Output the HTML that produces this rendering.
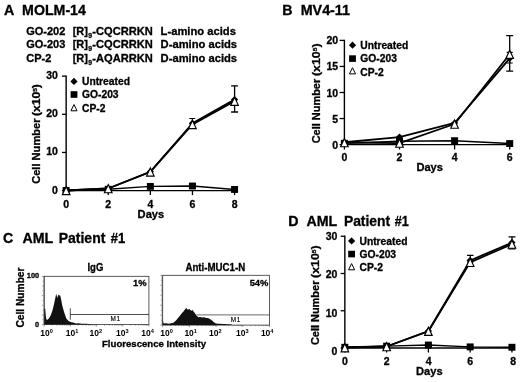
<!DOCTYPE html>
<html><head><meta charset="utf-8"><title>Figure</title>
<style>html,body{margin:0;padding:0;background:#fff}svg{display:block}text{font-family:"Liberation Sans", Arial, Helvetica, sans-serif;fill:#000}</style>
</head><body>
<svg width="520" height="382" viewBox="0 0 520 382">
<rect width="520" height="382" fill="#fff"/>
<text x="4.0" y="15.0" font-size="14.2" font-weight="bold" text-anchor="start" stroke="#000" stroke-width="0.3" >A</text>
<text x="22.1" y="15.0" font-size="14.2" font-weight="bold" text-anchor="start" textLength="63.8" lengthAdjust="spacingAndGlyphs" stroke="#000" stroke-width="0.3" >MOLM-14</text>
<text x="26.2" y="34.5" font-size="11" font-weight="bold" text-anchor="start" stroke="#000" stroke-width="0.3" >GO-202</text>
<text x="72.7" y="34.5" font-size="11" font-weight="bold" text-anchor="start" stroke="#000" stroke-width="0.3" >[R]</text>
<text x="88.3" y="37.9" font-size="6.8" font-weight="bold" text-anchor="start" stroke="#000" stroke-width="0.3" >9</text>
<text x="92.3" y="34.5" font-size="11" font-weight="bold" text-anchor="start" textLength="60.5" lengthAdjust="spacingAndGlyphs" stroke="#000" stroke-width="0.3" >-CQCRRKN</text>
<text x="160.6" y="34.5" font-size="11" font-weight="bold" text-anchor="start" textLength="75.3" lengthAdjust="spacingAndGlyphs" stroke="#000" stroke-width="0.3" >L-amino acids</text>
<text x="26.2" y="47.9" font-size="11" font-weight="bold" text-anchor="start" stroke="#000" stroke-width="0.3" >GO-203</text>
<text x="72.7" y="47.9" font-size="11" font-weight="bold" text-anchor="start" stroke="#000" stroke-width="0.3" >[R]</text>
<text x="88.3" y="51.3" font-size="6.8" font-weight="bold" text-anchor="start" stroke="#000" stroke-width="0.3" >9</text>
<text x="92.3" y="47.9" font-size="11" font-weight="bold" text-anchor="start" textLength="60.5" lengthAdjust="spacingAndGlyphs" stroke="#000" stroke-width="0.3" >-CQCRRKN</text>
<text x="160.6" y="47.9" font-size="11" font-weight="bold" text-anchor="start" textLength="76.5" lengthAdjust="spacingAndGlyphs" stroke="#000" stroke-width="0.3" >D-amino acids</text>
<text x="26.2" y="61.6" font-size="11" font-weight="bold" text-anchor="start" stroke="#000" stroke-width="0.3" >CP-2</text>
<text x="72.7" y="61.6" font-size="11" font-weight="bold" text-anchor="start" stroke="#000" stroke-width="0.3" >[R]</text>
<text x="88.3" y="65.0" font-size="6.8" font-weight="bold" text-anchor="start" stroke="#000" stroke-width="0.3" >9</text>
<text x="92.3" y="61.6" font-size="11" font-weight="bold" text-anchor="start" textLength="60.5" lengthAdjust="spacingAndGlyphs" stroke="#000" stroke-width="0.3" >-AQARRKN</text>
<text x="160.6" y="61.6" font-size="11" font-weight="bold" text-anchor="start" textLength="76.5" lengthAdjust="spacingAndGlyphs" stroke="#000" stroke-width="0.3" >D-amino acids</text>
<path d="M66.15 75.45V190.6H235.15" stroke="#000" stroke-width="1.4" fill="none"/>
<path d="M61.95 190.60H66.15" stroke="#000" stroke-width="1.3"/>
<text x="57.95" y="193.5" font-size="10.5" font-weight="bold" text-anchor="end" stroke="#000" stroke-width="0.3" >0</text>
<path d="M61.95 152.45H66.15" stroke="#000" stroke-width="1.3"/>
<text x="57.95" y="155.35" font-size="10.5" font-weight="bold" text-anchor="end" stroke="#000" stroke-width="0.3" >10</text>
<path d="M61.95 114.30H66.15" stroke="#000" stroke-width="1.3"/>
<text x="57.95" y="117.2" font-size="10.5" font-weight="bold" text-anchor="end" stroke="#000" stroke-width="0.3" >20</text>
<path d="M61.95 76.15H66.15" stroke="#000" stroke-width="1.3"/>
<text x="57.95" y="79.05" font-size="10.5" font-weight="bold" text-anchor="end" stroke="#000" stroke-width="0.3" >30</text>
<path d="M66.15 190.6V195.1" stroke="#000" stroke-width="1.3"/>
<text x="66.15" y="208.3" font-size="10.5" font-weight="bold" text-anchor="middle" stroke="#000" stroke-width="0.3" >0</text>
<path d="M108.25 190.6V195.1" stroke="#000" stroke-width="1.3"/>
<text x="108.25" y="208.3" font-size="10.5" font-weight="bold" text-anchor="middle" stroke="#000" stroke-width="0.3" >2</text>
<path d="M150.35 190.6V195.1" stroke="#000" stroke-width="1.3"/>
<text x="150.35" y="208.3" font-size="10.5" font-weight="bold" text-anchor="middle" stroke="#000" stroke-width="0.3" >4</text>
<path d="M192.45 190.6V195.1" stroke="#000" stroke-width="1.3"/>
<text x="192.45" y="208.3" font-size="10.5" font-weight="bold" text-anchor="middle" stroke="#000" stroke-width="0.3" >6</text>
<path d="M234.55 190.6V195.1" stroke="#000" stroke-width="1.3"/>
<text x="234.55" y="208.3" font-size="10.5" font-weight="bold" text-anchor="middle" stroke="#000" stroke-width="0.3" >8</text>
<text x="150.9" y="218.3" font-size="11" font-weight="bold" text-anchor="middle" textLength="26.6" lengthAdjust="spacingAndGlyphs" stroke="#000" stroke-width="0.3" >Days</text>
<text transform="translate(40.2 84.1) rotate(-90)" font-size="11" font-weight="bold" text-anchor="end" stroke="#000" stroke-width="0.3" textLength="32.0" lengthAdjust="spacingAndGlyphs">(x10<tspan font-size="6" dy="-3.6">5</tspan><tspan dy="3.6">)</tspan></text>
<text transform="translate(40.2 118.5) rotate(-90)" font-size="11" font-weight="bold" text-anchor="end" stroke="#000" stroke-width="0.3" textLength="65.3" lengthAdjust="spacingAndGlyphs">Cell Number</text>
<polyline points="66.15,190.49 108.25,189.26 150.35,186.40 192.45,186.02 234.55,189.46" fill="none" stroke="#000" stroke-width="1.4" stroke-linejoin="round"/>
<polyline points="66.15,190.49 108.25,188.50 150.35,171.72 192.45,123.27 234.55,99.61" fill="none" stroke="#000" stroke-width="1.8" stroke-linejoin="round"/>
<polyline points="66.15,190.49 108.25,188.50 150.35,171.91 192.45,124.41 234.55,101.14" fill="none" stroke="#000" stroke-width="1.8" stroke-linejoin="round"/>
<path d="M234.6 85.9V112M231.1 85.9H238.1M231.1 112H238.1" stroke="#000" stroke-width="1.3" fill="none"/>
<path d="M192.3 118.5V124M189.3 118.5H195.3M189.3 124H195.3" stroke="#000" stroke-width="1.2" fill="none"/>
<rect x="62.65" y="187.04" width="7.0" height="6.9" fill="#000"/>
<rect x="104.75" y="185.81" width="7.0" height="6.9" fill="#000"/>
<rect x="146.85" y="182.95" width="7.0" height="6.9" fill="#000"/>
<rect x="188.95" y="182.57" width="7.0" height="6.9" fill="#000"/>
<rect x="231.05" y="186.01" width="7.0" height="6.9" fill="#000"/>
<path d="M66.15 186.88555L69.75 190.48555L66.15 194.08554999999998L62.550000000000004 190.48555Z" fill="#000"/>
<path d="M108.25 184.90175L111.85 188.50175L108.25 192.10174999999998L104.65 188.50175Z" fill="#000"/>
<path d="M150.35000000000002 168.11575L153.95000000000002 171.71574999999999L150.35000000000002 175.31574999999998L146.75000000000003 171.71574999999999Z" fill="#000"/>
<path d="M192.45000000000002 119.66525L196.05 123.26525L192.45000000000002 126.86524999999999L188.85000000000002 123.26525Z" fill="#000"/>
<path d="M234.55 96.01225L238.15 99.61224999999999L234.55 103.21224999999998L230.95000000000002 99.61224999999999Z" fill="#000"/>
<path d="M66.15 186.49L69.95 194.69L62.35 194.69Z" fill="#fff" stroke="#000" stroke-width="1.15" stroke-linejoin="miter"/>
<path d="M108.25 184.50L112.05 192.70L104.45 192.70Z" fill="#fff" stroke="#000" stroke-width="1.15" stroke-linejoin="miter"/>
<path d="M150.35000000000002 167.91L154.15 176.11L146.55 176.11Z" fill="#fff" stroke="#000" stroke-width="1.15" stroke-linejoin="miter"/>
<path d="M192.45000000000002 120.41L196.25 128.61L188.65 128.61Z" fill="#fff" stroke="#000" stroke-width="1.15" stroke-linejoin="miter"/>
<path d="M234.55 97.14L238.35 105.34L230.75 105.34Z" fill="#fff" stroke="#000" stroke-width="1.15" stroke-linejoin="miter"/>
<path d="M74.0 77.80000000000001L77.6 81.4L74.0 85.0L70.4 81.4Z" fill="#000"/>
<text x="82.0" y="85.3" font-size="10.3" font-weight="bold" text-anchor="start" textLength="47.9" lengthAdjust="spacingAndGlyphs" stroke="#000" stroke-width="0.3" >Untreated</text>
<rect x="70.60" y="91.20" width="6.8" height="6.6" fill="#000"/>
<text x="82.0" y="98.39999999999999" font-size="10.3" font-weight="bold" text-anchor="start" textLength="36.6" lengthAdjust="spacingAndGlyphs" stroke="#000" stroke-width="0.3" >GO-203</text>
<path d="M74.0 104.60L77.05 110.80L70.95 110.80Z" fill="#fff" stroke="#000" stroke-width="1.0" stroke-linejoin="miter"/>
<text x="82.0" y="112.1" font-size="10.3" font-weight="bold" text-anchor="start" stroke="#000" stroke-width="0.3" >CP-2</text>
<text x="282.2" y="15.0" font-size="14.2" font-weight="bold" text-anchor="start" stroke="#000" stroke-width="0.3" >B</text>
<text x="300.7" y="15.0" font-size="14.2" font-weight="bold" text-anchor="start" textLength="49.3" lengthAdjust="spacingAndGlyphs" stroke="#000" stroke-width="0.3" >MV4-11</text>
<path d="M344.4 39.70V144.6H510.30" stroke="#000" stroke-width="1.4" fill="none"/>
<path d="M339.60 144.60H344.4" stroke="#000" stroke-width="1.3"/>
<text x="338.1" y="148.6" font-size="10.5" font-weight="bold" text-anchor="end" stroke="#000" stroke-width="0.3" >0</text>
<path d="M339.60 118.55H344.4" stroke="#000" stroke-width="1.3"/>
<text x="338.1" y="122.55" font-size="10.5" font-weight="bold" text-anchor="end" stroke="#000" stroke-width="0.3" >5</text>
<path d="M339.60 92.50H344.4" stroke="#000" stroke-width="1.3"/>
<text x="338.1" y="96.5" font-size="10.5" font-weight="bold" text-anchor="end" stroke="#000" stroke-width="0.3" >10</text>
<path d="M339.60 66.45H344.4" stroke="#000" stroke-width="1.3"/>
<text x="338.1" y="70.45" font-size="10.5" font-weight="bold" text-anchor="end" stroke="#000" stroke-width="0.3" >15</text>
<path d="M339.60 40.40H344.4" stroke="#000" stroke-width="1.3"/>
<text x="338.1" y="44.4" font-size="10.5" font-weight="bold" text-anchor="end" stroke="#000" stroke-width="0.3" >20</text>
<path d="M344.40 144.6V149.5" stroke="#000" stroke-width="1.3"/>
<text x="344.4" y="161.2" font-size="10.5" font-weight="bold" text-anchor="middle" stroke="#000" stroke-width="0.3" >0</text>
<path d="M399.50 144.6V149.5" stroke="#000" stroke-width="1.3"/>
<text x="399.5" y="161.2" font-size="10.5" font-weight="bold" text-anchor="middle" stroke="#000" stroke-width="0.3" >2</text>
<path d="M454.60 144.6V149.5" stroke="#000" stroke-width="1.3"/>
<text x="454.6" y="161.2" font-size="10.5" font-weight="bold" text-anchor="middle" stroke="#000" stroke-width="0.3" >4</text>
<path d="M509.70 144.6V149.5" stroke="#000" stroke-width="1.3"/>
<text x="509.7" y="161.2" font-size="10.5" font-weight="bold" text-anchor="middle" stroke="#000" stroke-width="0.3" >6</text>
<text x="429.7" y="171.3" font-size="11" font-weight="bold" text-anchor="middle" textLength="26.6" lengthAdjust="spacingAndGlyphs" stroke="#000" stroke-width="0.3" >Days</text>
<text transform="translate(320.1 43.5) rotate(-90)" font-size="11" font-weight="bold" text-anchor="end" stroke="#000" stroke-width="0.3" textLength="32.6" lengthAdjust="spacingAndGlyphs">(x10<tspan font-size="6" dy="-3.6">5</tspan><tspan dy="3.6">)</tspan></text>
<text transform="translate(320.1 78.8) rotate(-90)" font-size="11" font-weight="bold" text-anchor="end" stroke="#000" stroke-width="0.3" textLength="64.5" lengthAdjust="spacingAndGlyphs">Cell Number</text>
<polyline points="344.40,143.30 399.50,141.21 454.60,140.69 509.70,143.56" fill="none" stroke="#000" stroke-width="1.4" stroke-linejoin="round"/>
<polyline points="344.40,142.26 399.50,137.05 454.60,122.98 509.70,58.37" fill="none" stroke="#000" stroke-width="1.8" stroke-linejoin="round"/>
<polyline points="344.40,142.52 399.50,143.04 454.60,124.02 509.70,54.21" fill="none" stroke="#000" stroke-width="1.8" stroke-linejoin="round"/>
<path d="M509.7 35.7V71.2M506.2 35.7H513.2M506.2 71.2H513.2" stroke="#000" stroke-width="1.3" fill="none"/>
<path d="M509.7 52.4V63.0M506.7 52.4H512.7M506.7 63.0H512.7" stroke="#000" stroke-width="1.2" fill="none"/>
<rect x="340.90" y="139.85" width="7.0" height="6.9" fill="#000"/>
<rect x="396.00" y="137.76" width="7.0" height="6.9" fill="#000"/>
<rect x="451.10" y="137.24" width="7.0" height="6.9" fill="#000"/>
<rect x="506.20" y="140.11" width="7.0" height="6.9" fill="#000"/>
<path d="M344.4 138.6555L348.0 142.25549999999998L344.4 145.85549999999998L340.79999999999995 142.25549999999998Z" fill="#000"/>
<path d="M399.5 133.4455L403.1 137.0455L399.5 140.6455L395.9 137.0455Z" fill="#000"/>
<path d="M454.59999999999997 119.3785L458.2 122.9785L454.59999999999997 126.57849999999999L450.99999999999994 122.9785Z" fill="#000"/>
<path d="M509.7 54.774499999999996L513.3 58.3745L509.7 61.9745L506.09999999999997 58.3745Z" fill="#000"/>
<path d="M344.4 138.52L348.20 146.72L340.60 146.72Z" fill="#fff" stroke="#000" stroke-width="1.15" stroke-linejoin="miter"/>
<path d="M399.5 139.04L403.30 147.24L395.70 147.24Z" fill="#fff" stroke="#000" stroke-width="1.15" stroke-linejoin="miter"/>
<path d="M454.59999999999997 120.02L458.40 128.22L450.80 128.22Z" fill="#fff" stroke="#000" stroke-width="1.15" stroke-linejoin="miter"/>
<path d="M509.7 50.21L513.50 58.41L505.90 58.41Z" fill="#fff" stroke="#000" stroke-width="1.15" stroke-linejoin="miter"/>
<path d="M352.5 41.6L356.1 45.2L352.5 48.800000000000004L348.9 45.2Z" fill="#000"/>
<text x="360.3" y="48.8" font-size="10.3" font-weight="bold" text-anchor="start" textLength="47.9" lengthAdjust="spacingAndGlyphs" stroke="#000" stroke-width="0.3" >Untreated</text>
<rect x="349.10" y="55.30" width="6.8" height="6.6" fill="#000"/>
<text x="360.3" y="62.199999999999996" font-size="10.3" font-weight="bold" text-anchor="start" textLength="36.6" lengthAdjust="spacingAndGlyphs" stroke="#000" stroke-width="0.3" >GO-203</text>
<path d="M352.5 67.70L355.55 73.90L349.45 73.90Z" fill="#fff" stroke="#000" stroke-width="1.0" stroke-linejoin="miter"/>
<text x="360.3" y="75.6" font-size="10.3" font-weight="bold" text-anchor="start" stroke="#000" stroke-width="0.3" >CP-2</text>
<text x="288.2" y="225.6" font-size="14.2" font-weight="bold" text-anchor="start" stroke="#000" stroke-width="0.3" >D</text>
<text x="306.4" y="225.6" font-size="14.2" font-weight="bold" text-anchor="start" stroke="#000" stroke-width="0.3" >AML</text>
<text x="343.9" y="225.6" font-size="14.2" font-weight="bold" text-anchor="start" textLength="46.3" lengthAdjust="spacingAndGlyphs" stroke="#000" stroke-width="0.3" >Patient</text>
<text x="394.7" y="225.6" font-size="14.2" font-weight="bold" text-anchor="start" textLength="14.0" lengthAdjust="spacingAndGlyphs" stroke="#000" stroke-width="0.3" >#1</text>
<path d="M344.85 235.55V348.0H512.53" stroke="#000" stroke-width="1.4" fill="none"/>
<path d="M340.65 348.00H344.85" stroke="#000" stroke-width="1.3"/>
<text x="337.35" y="354.6" font-size="10.5" font-weight="bold" text-anchor="end" stroke="#000" stroke-width="0.3" >0</text>
<path d="M340.65 310.75H344.85" stroke="#000" stroke-width="1.3"/>
<text x="337.35" y="317.0" font-size="10.5" font-weight="bold" text-anchor="end" stroke="#000" stroke-width="0.3" >10</text>
<path d="M340.65 273.50H344.85" stroke="#000" stroke-width="1.3"/>
<text x="337.35" y="278.4" font-size="10.5" font-weight="bold" text-anchor="end" stroke="#000" stroke-width="0.3" >20</text>
<path d="M340.65 236.25H344.85" stroke="#000" stroke-width="1.3"/>
<text x="337.35" y="240.3" font-size="10.5" font-weight="bold" text-anchor="end" stroke="#000" stroke-width="0.3" >30</text>
<path d="M344.85 348.0V352.5" stroke="#000" stroke-width="1.3"/>
<text x="344.85" y="364.8" font-size="10.5" font-weight="bold" text-anchor="middle" stroke="#000" stroke-width="0.3" >0</text>
<path d="M386.62 348.0V352.5" stroke="#000" stroke-width="1.3"/>
<text x="386.62" y="364.8" font-size="10.5" font-weight="bold" text-anchor="middle" stroke="#000" stroke-width="0.3" >2</text>
<path d="M428.39 348.0V352.5" stroke="#000" stroke-width="1.3"/>
<text x="428.79" y="364.8" font-size="10.5" font-weight="bold" text-anchor="middle" stroke="#000" stroke-width="0.3" >4</text>
<path d="M470.16 348.0V352.5" stroke="#000" stroke-width="1.3"/>
<text x="470.16" y="364.8" font-size="10.5" font-weight="bold" text-anchor="middle" stroke="#000" stroke-width="0.3" >6</text>
<path d="M511.93 348.0V352.5" stroke="#000" stroke-width="1.3"/>
<text x="513.23" y="364.8" font-size="10.5" font-weight="bold" text-anchor="middle" stroke="#000" stroke-width="0.3" >8</text>
<text x="429.3" y="374.5" font-size="11" font-weight="bold" text-anchor="middle" textLength="26.6" lengthAdjust="spacingAndGlyphs" stroke="#000" stroke-width="0.3" >Days</text>
<text transform="translate(319.3 245.3) rotate(-90)" font-size="11" font-weight="bold" text-anchor="end" stroke="#000" stroke-width="0.3" textLength="32.6" lengthAdjust="spacingAndGlyphs">(x10<tspan font-size="6" dy="-3.6">5</tspan><tspan dy="3.6">)</tspan></text>
<text transform="translate(319.3 280.6) rotate(-90)" font-size="11" font-weight="bold" text-anchor="end" stroke="#000" stroke-width="0.3" textLength="64.5" lengthAdjust="spacingAndGlyphs">Cell Number</text>
<polyline points="344.85,347.25 386.62,346.14 428.39,345.02 470.16,346.88 511.93,347.25" fill="none" stroke="#000" stroke-width="1.4" stroke-linejoin="round"/>
<polyline points="344.85,347.25 386.62,346.51 428.39,331.05 470.16,260.46 511.93,242.58" fill="none" stroke="#000" stroke-width="1.8" stroke-linejoin="round"/>
<polyline points="344.85,347.63 386.62,346.51 428.39,331.24 470.16,262.32 511.93,244.07" fill="none" stroke="#000" stroke-width="1.8" stroke-linejoin="round"/>
<path d="M512.0 236.8V248.9M508.5 236.8H515.5M508.5 248.9H515.5" stroke="#000" stroke-width="1.3" fill="none"/>
<path d="M470.3 255.4V262M467.05 255.4H473.55M467.05 262H473.55" stroke="#000" stroke-width="1.2" fill="none"/>
<rect x="341.35" y="343.81" width="7.0" height="6.9" fill="#000"/>
<rect x="383.12" y="342.69" width="7.0" height="6.9" fill="#000"/>
<rect x="424.89" y="341.57" width="7.0" height="6.9" fill="#000"/>
<rect x="466.66" y="343.43" width="7.0" height="6.9" fill="#000"/>
<rect x="508.43" y="343.81" width="7.0" height="6.9" fill="#000"/>
<path d="M344.85 343.655L348.45000000000005 347.255L344.85 350.855L341.25 347.255Z" fill="#000"/>
<path d="M386.62 342.90999999999997L390.22 346.51L386.62 350.11L383.02 346.51Z" fill="#000"/>
<path d="M428.39000000000004 327.45124999999996L431.99000000000007 331.05125L428.39000000000004 334.65125L424.79 331.05125Z" fill="#000"/>
<path d="M470.16 256.86249999999995L473.76000000000005 260.4625L470.16 264.0625L466.56 260.4625Z" fill="#000"/>
<path d="M511.93000000000006 238.9825L515.5300000000001 242.58249999999998L511.93000000000006 246.18249999999998L508.33000000000004 242.58249999999998Z" fill="#000"/>
<path d="M344.85 343.63L348.65 351.83L341.05 351.83Z" fill="#fff" stroke="#000" stroke-width="1.15" stroke-linejoin="miter"/>
<path d="M386.62 342.51L390.42 350.71L382.82 350.71Z" fill="#fff" stroke="#000" stroke-width="1.15" stroke-linejoin="miter"/>
<path d="M428.39000000000004 327.24L432.19 335.44L424.59 335.44Z" fill="#fff" stroke="#000" stroke-width="1.15" stroke-linejoin="miter"/>
<path d="M470.16 258.32L473.96 266.52L466.36 266.52Z" fill="#fff" stroke="#000" stroke-width="1.15" stroke-linejoin="miter"/>
<path d="M511.93000000000006 240.07L515.73 248.27L508.13 248.27Z" fill="#fff" stroke="#000" stroke-width="1.15" stroke-linejoin="miter"/>
<path d="M351.6 237.3L355.20000000000005 240.9L351.6 244.5L348.0 240.9Z" fill="#000"/>
<text x="359.5" y="244.5" font-size="10.3" font-weight="bold" text-anchor="start" textLength="47.9" lengthAdjust="spacingAndGlyphs" stroke="#000" stroke-width="0.3" >Untreated</text>
<rect x="348.20" y="250.75" width="6.8" height="6.6" fill="#000"/>
<text x="359.5" y="257.65" font-size="10.3" font-weight="bold" text-anchor="start" textLength="36.6" lengthAdjust="spacingAndGlyphs" stroke="#000" stroke-width="0.3" >GO-203</text>
<path d="M351.6 263.60L354.65 269.80L348.55 269.80Z" fill="#fff" stroke="#000" stroke-width="1.0" stroke-linejoin="miter"/>
<text x="359.5" y="271.40000000000003" font-size="10.3" font-weight="bold" text-anchor="start" stroke="#000" stroke-width="0.3" >CP-2</text>
<text x="3" y="243.0" font-size="14.2" font-weight="bold" text-anchor="start" stroke="#000" stroke-width="0.3" >C</text>
<text x="22.5" y="243.0" font-size="14.2" font-weight="bold" text-anchor="start" stroke="#000" stroke-width="0.3" >AML</text>
<text x="58.7" y="243.0" font-size="14.2" font-weight="bold" text-anchor="start" textLength="46.7" lengthAdjust="spacingAndGlyphs" stroke="#000" stroke-width="0.3" >Patient</text>
<text x="110.8" y="243.0" font-size="14.2" font-weight="bold" text-anchor="start" textLength="14.5" lengthAdjust="spacingAndGlyphs" stroke="#000" stroke-width="0.3" >#1</text>
<text transform="translate(23.5 297.5) rotate(-90)" font-size="10.2" font-weight="bold" text-anchor="middle" stroke="#000" stroke-width="0.3" textLength="60" lengthAdjust="spacingAndGlyphs">Cell Number</text>
<text x="95.4" y="270.9" font-size="10.4" font-weight="bold" text-anchor="middle" textLength="15.9" lengthAdjust="spacingAndGlyphs" stroke="#000" stroke-width="0.3" >IgG</text>
<text x="185.4" y="270.7" font-size="10.2" font-weight="bold" text-anchor="start" textLength="59.8" lengthAdjust="spacingAndGlyphs" stroke="#000" stroke-width="0.3" >Anti-MUC1-N</text>
<text x="102.0" y="346.5" font-size="9.6" font-weight="bold" text-anchor="start" textLength="104" lengthAdjust="spacingAndGlyphs" stroke="#000" stroke-width="0.3" >Fluorescence Intensity</text>
<rect x="44.3" y="276.3" width="104.60" height="48.30" fill="none" stroke="#333" stroke-width="0.8"/>
<path d="M41.90 324.60H44.3M43.20 323.63H44.3M43.20 322.67H44.3M43.20 321.70H44.3M43.20 320.74H44.3M42.50 319.77H44.3M43.20 318.80H44.3M43.20 317.84H44.3M43.20 316.87H44.3M43.20 315.91H44.3M41.90 314.94H44.3M43.20 313.97H44.3M43.20 313.01H44.3M43.20 312.04H44.3M43.20 311.08H44.3M42.50 310.11H44.3M43.20 309.14H44.3M43.20 308.18H44.3M43.20 307.21H44.3M43.20 306.25H44.3M41.90 305.28H44.3M43.20 304.31H44.3M43.20 303.35H44.3M43.20 302.38H44.3M43.20 301.42H44.3M42.50 300.45H44.3M43.20 299.48H44.3M43.20 298.52H44.3M43.20 297.55H44.3M43.20 296.59H44.3M41.90 295.62H44.3M43.20 294.65H44.3M43.20 293.69H44.3M43.20 292.72H44.3M43.20 291.76H44.3M42.50 290.79H44.3M43.20 289.82H44.3M43.20 288.86H44.3M43.20 287.89H44.3M43.20 286.93H44.3M41.90 285.96H44.3M43.20 284.99H44.3M43.20 284.03H44.3M43.20 283.06H44.3M43.20 282.10H44.3M42.50 281.13H44.3M43.20 280.16H44.3M43.20 279.20H44.3M43.20 278.23H44.3M43.20 277.27H44.3M41.90 276.30H44.3" stroke="#333" stroke-width="0.5" fill="none"/>
<path d="M44.30 324.6V326.60M52.17 324.6V325.60M56.78 324.6V325.60M60.04 324.6V325.60M62.58 324.6V325.60M64.65 324.6V325.60M66.40 324.6V325.60M67.92 324.6V325.60M69.25 324.6V325.60M70.45 324.6V326.60M78.32 324.6V325.60M82.93 324.6V325.60M86.19 324.6V325.60M88.73 324.6V325.60M90.80 324.6V325.60M92.55 324.6V325.60M94.07 324.6V325.60M95.40 324.6V325.60M96.60 324.6V326.60M104.47 324.6V325.60M109.08 324.6V325.60M112.34 324.6V325.60M114.88 324.6V325.60M116.95 324.6V325.60M118.70 324.6V325.60M120.22 324.6V325.60M121.55 324.6V325.60M122.75 324.6V326.60M130.62 324.6V325.60M135.23 324.6V325.60M138.49 324.6V325.60M141.03 324.6V325.60M143.10 324.6V325.60M144.85 324.6V325.60M146.37 324.6V325.60M147.70 324.6V325.60M148.9 324.6V326.6" stroke="#333" stroke-width="0.5" fill="none"/>
<rect x="162.7" y="275.3" width="106.80" height="49.80" fill="none" stroke="#333" stroke-width="0.8"/>
<path d="M160.30 325.10H162.7M161.60 324.10H162.7M161.60 323.11H162.7M161.60 322.11H162.7M161.60 321.12H162.7M160.90 320.12H162.7M161.60 319.12H162.7M161.60 318.13H162.7M161.60 317.13H162.7M161.60 316.14H162.7M160.30 315.14H162.7M161.60 314.14H162.7M161.60 313.15H162.7M161.60 312.15H162.7M161.60 311.16H162.7M160.90 310.16H162.7M161.60 309.16H162.7M161.60 308.17H162.7M161.60 307.17H162.7M161.60 306.18H162.7M160.30 305.18H162.7M161.60 304.18H162.7M161.60 303.19H162.7M161.60 302.19H162.7M161.60 301.20H162.7M160.90 300.20H162.7M161.60 299.20H162.7M161.60 298.21H162.7M161.60 297.21H162.7M161.60 296.22H162.7M160.30 295.22H162.7M161.60 294.22H162.7M161.60 293.23H162.7M161.60 292.23H162.7M161.60 291.24H162.7M160.90 290.24H162.7M161.60 289.24H162.7M161.60 288.25H162.7M161.60 287.25H162.7M161.60 286.26H162.7M160.30 285.26H162.7M161.60 284.26H162.7M161.60 283.27H162.7M161.60 282.27H162.7M161.60 281.28H162.7M160.90 280.28H162.7M161.60 279.28H162.7M161.60 278.29H162.7M161.60 277.29H162.7M161.60 276.30H162.7M160.30 275.30H162.7" stroke="#333" stroke-width="0.5" fill="none"/>
<path d="M162.70 325.1V327.10M170.74 325.1V326.10M175.44 325.1V326.10M178.78 325.1V326.10M181.36 325.1V326.10M183.48 325.1V326.10M185.26 325.1V326.10M186.81 325.1V326.10M188.18 325.1V326.10M189.40 325.1V327.10M197.44 325.1V326.10M202.14 325.1V326.10M205.48 325.1V326.10M208.06 325.1V326.10M210.18 325.1V326.10M211.96 325.1V326.10M213.51 325.1V326.10M214.88 325.1V326.10M216.10 325.1V327.10M224.14 325.1V326.10M228.84 325.1V326.10M232.18 325.1V326.10M234.76 325.1V326.10M236.88 325.1V326.10M238.66 325.1V326.10M240.21 325.1V326.10M241.58 325.1V326.10M242.80 325.1V327.10M250.84 325.1V326.10M255.54 325.1V326.10M258.88 325.1V326.10M261.46 325.1V326.10M263.58 325.1V326.10M265.36 325.1V326.10M266.91 325.1V326.10M268.28 325.1V326.10M269.5 325.1V327.1" stroke="#333" stroke-width="0.5" fill="none"/>
<path d="M70.3 308.3V319.8M70.3 314.5H148.9" stroke="#222" stroke-width="0.8" fill="none"/>
<path d="M196.4 314.9H269.5" stroke="#444" stroke-width="0.8" fill="none"/>
<text x="115.6" y="320.8" font-size="6.4" font-weight="normal" text-anchor="middle" stroke="#000" stroke-width="0.15" letter-spacing="0.7">M1</text>
<text x="235.8" y="321.7" font-size="6.4" font-weight="normal" text-anchor="middle" stroke="#000" stroke-width="0.15" letter-spacing="0.7">M1</text>
<text x="146.6" y="285.8" font-size="9.4" font-weight="bold" text-anchor="end" stroke="#000" stroke-width="0.3" >1%</text>
<text x="268.4" y="285.8" font-size="9.4" font-weight="bold" text-anchor="end" stroke="#000" stroke-width="0.3" >54%</text>
<text x="39.2" y="278.3" font-size="7.4" font-weight="bold" text-anchor="end" textLength="12.4" lengthAdjust="spacingAndGlyphs" stroke="#000" stroke-width="0.3" >100</text>
<text x="39.2" y="326.8" font-size="7.4" font-weight="bold" text-anchor="end" stroke="#000" stroke-width="0.3" >0</text>
<text x="46.5" y="336.2" font-size="8.5" font-weight="bold" text-anchor="middle" >10<tspan font-size="5.6" dy="-3.4">0</tspan></text>
<text x="72.0" y="336.2" font-size="8.5" font-weight="bold" text-anchor="middle" >10<tspan font-size="5.6" dy="-3.4">1</tspan></text>
<text x="95.9" y="336.2" font-size="8.5" font-weight="bold" text-anchor="middle" >10<tspan font-size="5.6" dy="-3.4">2</tspan></text>
<text x="122.4" y="336.2" font-size="8.5" font-weight="bold" text-anchor="middle" >10<tspan font-size="5.6" dy="-3.4">3</tspan></text>
<text x="147.6" y="336.2" font-size="8.5" font-weight="bold" text-anchor="middle" >10<tspan font-size="5.6" dy="-3.4">4</tspan></text>
<text x="166.6" y="336.2" font-size="8.5" font-weight="bold" text-anchor="middle" >10<tspan font-size="5.6" dy="-3.4">0</tspan></text>
<text x="190.7" y="336.2" font-size="8.5" font-weight="bold" text-anchor="middle" >10<tspan font-size="5.6" dy="-3.4">1</tspan></text>
<text x="215.4" y="336.2" font-size="8.5" font-weight="bold" text-anchor="middle" >10<tspan font-size="5.6" dy="-3.4">2</tspan></text>
<text x="242.4" y="336.2" font-size="8.5" font-weight="bold" text-anchor="middle" >10<tspan font-size="5.6" dy="-3.4">3</tspan></text>
<text x="267.2" y="336.2" font-size="8.5" font-weight="bold" text-anchor="middle" >10<tspan font-size="5.6" dy="-3.4">4</tspan></text>
<path d="M44.3 324.6L44.3 308.5L45.2 308.5L45.6 314L46.3 319.4L47.5 319.8L48.9 318.4L50.5 315.7L51.6 313L52.6 310L54.1 303.7L55.2 298.5L55.7 296L56.2 293.8L56.7 295.5L57.3 297.9L57.9 296L58.65 294.5L59.4 295.6L60.05 295.3L60.59 297L61.13 299.5L62.32 305.8L64.05 312.1L66.32 318.4L68.48 321L71.39 322.3L73.12 322.6L75.93 323.4L78.52 323.3L81.54 323.8L86.08 323.7L92.56 324.3L90 324.6Z" fill="#111"/>
<path d="M162.7 325.1L162.7 320L163.6 323.4L166 323.2L168.8 323.8L171 323.2L173.5 322.7L176.2 320.2L178 318L179.5 316.2L182.2 312.8L183.5 311.5L184.9 309.5L185.8 308.6L186.5 308.0L187.3 309.6L188.3 309.2L189 309.8L189.6 308.8L190.5 310.2L191.6 310.8L192.3 310.0L193 310.4L193.8 312L194.6 312.8L196.4 315.5L198.4 317.3L200 317.0L202.4 317.4L204 317.2L206.5 318.0L208 318.0L209.8 318.9L211.8 320.2L213.9 322.2L215.9 323.6L219 323.7L224 323.9L232 324.6L232 325.1Z" fill="#111"/>
</svg>
</body></html>
